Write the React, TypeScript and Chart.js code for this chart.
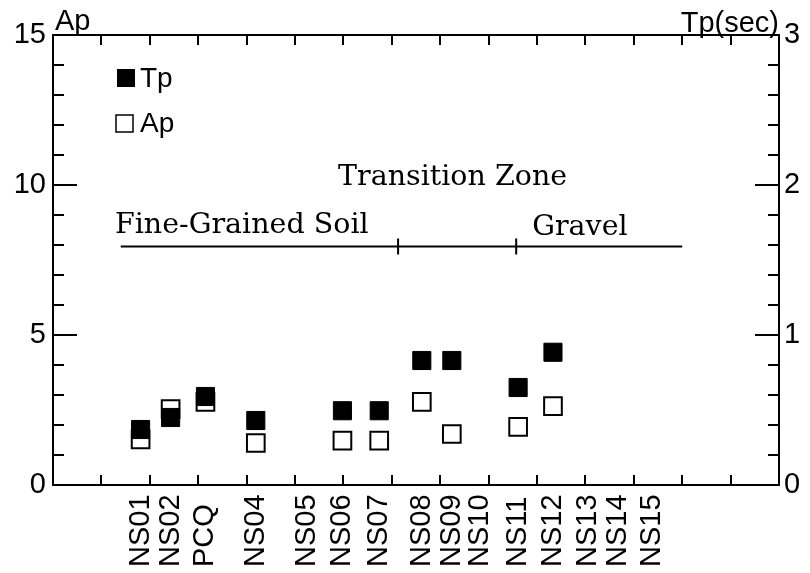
import React, { useEffect, useRef } from "react";
import { Chart, registerables } from "chart.js";

Chart.register(...registerables);

// ---- data ----
const stations = ["NS01", "NS02", "PCQ", "NS04", "NS05", "NS06", "NS07", "NS08", "NS09", "NS10", "NS11", "NS12", "NS13", "NS14", "NS15"];
const stationPos = [1.81, 2.43, 3.15, 4.19, 5.25, 5.98, 6.74, 7.62, 8.24, 8.82, 9.61, 10.33, 11.05, 11.67, 12.38];
const tpValues: (number | null)[] = [0.37, 0.45, 0.59, 0.43, null, 0.495, 0.495, 0.83, 0.83, null, 0.65, 0.885, null, null, null];
const apValues: (number | null)[] = [1.52, 2.53, 2.77, 1.4, null, 1.48, 1.48, 2.77, 1.7, null, 1.94, 2.63, null, null, null];

const apLabelTicks = [0, 5, 10, 15];
const tpLabelTicks = [0, 1, 2, 3];

const zoneNames = ["Fine-Grained Soil", "Transition Zone", "Gravel"];
const zoneNameX = [1.28, 5.89, 9.9];
const zoneNameY = [8.4, 10.0, 8.33];
const zoneLineX = [1.4, 13.0];
const zoneLineY = 7.95;
const zoneBreaks = [7.13, 9.57];

const SANS = '"Liberation Sans", Arial, Helvetica, sans-serif';
const SERIF = '"DejaVu Serif", "Liberation Serif", serif';

function pts(vals: (number | null)[]) {
  const out: { x: number; y: number }[] = [];
  vals.forEach((v, i) => {
    if (v !== null) out.push({ x: stationPos[i], y: v });
  });
  return out;
}

const isIn = (v: number, list: number[]) => list.some((t) => Math.abs(t - v) < 1e-6);

const overlay = {
  id: "overlay",
  afterDraw(chart: any) {
    const ctx = chart.ctx as CanvasRenderingContext2D;
    const xs = chart.scales.x;
    const yL = chart.scales.yL;
    const yR = chart.scales.yR;
    const area = chart.chartArea;
    ctx.save();
    ctx.fillStyle = "#000";
    ctx.strokeStyle = "#000";
    ctx.lineWidth = 2;

    // inward tick marks
    ctx.beginPath();
    xs.ticks.forEach((t: any) => {
      const px = Math.round(xs.getPixelForValue(t.value));
      ctx.moveTo(px, area.bottom);
      ctx.lineTo(px, area.bottom - 10);
      ctx.moveTo(px, area.top);
      ctx.lineTo(px, area.top + 10);
    });
    yL.ticks.forEach((t: any) => {
      const py = Math.round(yL.getPixelForValue(t.value));
      const len = isIn(t.value, apLabelTicks) ? 24 : 11;
      ctx.moveTo(area.left, py);
      ctx.lineTo(area.left + len, py);
    });
    yR.ticks.forEach((t: any) => {
      const py = Math.round(yR.getPixelForValue(t.value));
      const len = isIn(t.value, tpLabelTicks) ? 24 : 11;
      ctx.moveTo(area.right, py);
      ctx.lineTo(area.right - len, py);
    });
    ctx.stroke();

    // station labels (rotated, bottom aligned)
    ctx.font = `29px ${SANS}`;
    ctx.textAlign = "left";
    ctx.textBaseline = "middle";
    stations.forEach((s, i) => {
      const px = xs.getPixelForValue(stationPos[i]);
      ctx.save();
      ctx.translate(px, 567);
      ctx.rotate(-Math.PI / 2);
      ctx.fillText(s, 0, 0);
      ctx.restore();
    });

    // axis titles
    ctx.textBaseline = "alphabetic";
    ctx.textAlign = "left";
    ctx.fillText("Ap", area.left + 2, 30);
    ctx.textAlign = "right";
    ctx.fillText("Tp(sec)", area.right, 32);

    // legend
    ctx.fillRect(117, 69, 18, 18);
    ctx.lineWidth = 1.5;
    ctx.fillStyle = "#fff";
    ctx.fillRect(116, 115, 17, 17);
    ctx.strokeRect(116, 115, 17, 17);
    ctx.fillStyle = "#000";
    ctx.font = `28px ${SANS}`;
    ctx.textAlign = "left";
    ctx.fillText("Tp", 140, 87);
    ctx.fillText("Ap", 140, 132);

    // zone annotation line
    const ly = yL.getPixelForValue(zoneLineY);
    ctx.lineWidth = 2;
    ctx.beginPath();
    ctx.moveTo(xs.getPixelForValue(zoneLineX[0]), ly);
    ctx.lineTo(xs.getPixelForValue(zoneLineX[1]), ly);
    zoneBreaks.forEach((b) => {
      const bx = xs.getPixelForValue(b);
      ctx.moveTo(bx, ly - 8);
      ctx.lineTo(bx, ly + 8);
    });
    ctx.stroke();

    ctx.font = `28.5px ${SERIF}`;
    ctx.textAlign = "left";
    zoneNames.forEach((n, i) => {
      ctx.fillText(n, xs.getPixelForValue(zoneNameX[i]), yL.getPixelForValue(zoneNameY[i]));
    });
    ctx.restore();
  },
};

const tickFont = { family: SANS, size: 29 };

const noPad = (s: any) => {
  s.paddingTop = 0;
  s.paddingBottom = 0;
  s.paddingLeft = 0;
  s.paddingRight = 0;
};

export default function App() {
  const ref = useRef<HTMLCanvasElement | null>(null);
  useEffect(() => {
    if (!ref.current) return;
    const chart = new Chart(ref.current, {
      type: "scatter",
      data: {
        datasets: [
          {
            label: "Tp",
            data: pts(tpValues),
            xAxisID: "x",
            yAxisID: "yR",
            pointStyle: "rect",
            pointRadius: 12.8,
            pointHoverRadius: 12.8,
            backgroundColor: "#000",
            borderColor: "#000",
            borderWidth: 1,
            order: 0,
          },
          {
            label: "Ap",
            data: pts(apValues),
            xAxisID: "x",
            yAxisID: "yL",
            pointStyle: "rect",
            pointRadius: 12.5,
            pointHoverRadius: 12.5,
            backgroundColor: "#fff",
            borderColor: "#000",
            borderWidth: 2,
            order: 1,
          },
        ],
      },
      options: {
        responsive: false,
        animation: false,
        events: [],
        layout: { padding: 0 },
        plugins: { legend: { display: false }, tooltip: { enabled: false } },
        scales: {
          x: {
            type: "linear",
            position: "bottom",
            min: 0,
            max: 15,
            ticks: { stepSize: 1, display: false },
            grid: { display: true, drawOnChartArea: false, drawTicks: false },
            border: { display: true, color: "#000", width: 2 },
            afterFit: (s: any) => { s.height = 88; noPad(s); },
          },
          xT: {
            type: "linear",
            position: "top",
            min: 0,
            max: 15,
            ticks: { stepSize: 1, display: false },
            grid: { display: true, drawOnChartArea: false, drawTicks: false },
            border: { display: true, color: "#000", width: 2 },
            afterFit: (s: any) => { s.height = 35; noPad(s); },
          },
          yL: {
            type: "linear",
            position: "left",
            min: 0,
            max: 15,
            ticks: {
              stepSize: 1,
              color: "#000",
              font: tickFont,
              padding: 7,
              autoSkip: false,
              callback: (v: any) => (isIn(Number(v), apLabelTicks) ? String(v) : ""),
            },
            grid: { display: true, drawOnChartArea: false, drawTicks: false },
            border: { display: true, color: "#000", width: 2 },
            afterFit: (s: any) => { s.width = 53; noPad(s); },
          },
          yR: {
            type: "linear",
            position: "right",
            min: 0,
            max: 3,
            ticks: {
              stepSize: 0.2,
              color: "#000",
              font: tickFont,
              padding: 5,
              autoSkip: false,
              callback: (v: any) => (isIn(Number(v), tpLabelTicks) ? String(Math.round(Number(v))) : ""),
            },
            grid: { display: true, drawOnChartArea: false, drawTicks: false },
            border: { display: true, color: "#000", width: 2 },
            afterFit: (s: any) => { s.width = 31; noPad(s); },
          },
        },
      },
      plugins: [overlay],
    } as any);
    return () => chart.destroy();
  }, []);
  return (
    <div style={{ position: "absolute", left: 0, top: 0, width: 810, height: 573, background: "#fff" }}>
      <canvas ref={ref} width={810} height={573} style={{ display: "block" }} />
    </div>
  );
}
